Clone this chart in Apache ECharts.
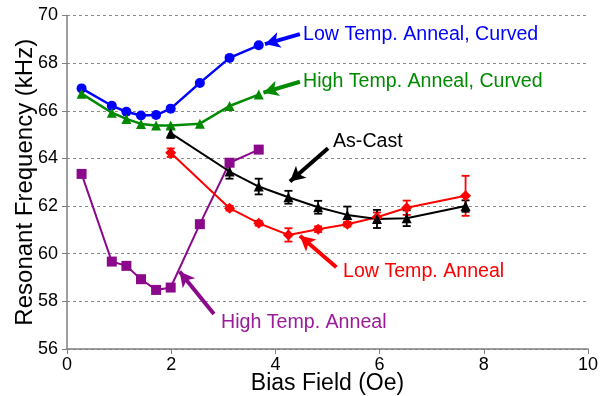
<!DOCTYPE html>
<html>
<head>
<meta charset="utf-8">
<script src="https://cdn.jsdelivr.net/npm/echarts@6/dist/echarts.min.js"></script>
<style>
  html, body { margin: 0; padding: 0; background: #fff; }
  #chart { width: 606px; height: 396px; }
</style>
</head>
<body>
<div id="chart"></div>
<script>
// bias field values (Oe)
const fieldCurved = [0.28, 0.86, 1.14, 1.42, 1.71, 1.99, 2.55, 3.12, 3.68];
const fieldAnneal = [1.99, 3.12, 3.68, 4.25, 4.82, 5.38, 5.95, 6.52, 7.65];

// resonant frequency (kHz)
const lowCurved = [66.94, 66.21, 65.96, 65.80, 65.82, 66.09, 67.17, 68.22, 68.75];
const highCurved = [66.72, 65.92, 65.66, 65.45, 65.38, 65.38, 65.46, 66.20, 66.68];
const highAnneal = [63.35, 59.67, 59.49, 58.93, 58.48, 58.58, 61.24, 63.82, 64.37];
const asCast = [65.06, 63.45, 62.82, 62.37, 61.95, 61.63, 61.46, 61.49, 62.0];
const asCastErr = [0.2, 0.3, 0.33, 0.27, 0.27, 0.35, 0.38, 0.33, 0.24];
const lowAnneal = [64.24, 61.91, 61.28, 60.79, 61.03, 61.24, 61.53, 61.93, 62.43];
const lowAnnealErr = [0.18, 0.1, 0.1, 0.28, 0.12, 0.1, 0.2, 0.3, 0.84];

const FONT = 'Liberation Sans, Arial, sans-serif';

const pairs = (xs, ys) => xs.map((x, i) => [x, ys[i]]);
const errRows = (xs, ys, es) => xs.map((x, i) => [x, ys[i] - es[i], ys[i] + es[i]]);

function errorBar(color) {
  return function (params, api) {
    const lo = api.coord([api.value(0), api.value(1)]);
    const hi = api.coord([api.value(0), api.value(2)]);
    const w = 4;
    const style = { stroke: color, lineWidth: 1.8 };
    return {
      type: 'group',
      children: [
        { type: 'line', shape: { x1: lo[0], y1: lo[1], x2: hi[0], y2: hi[1] }, style },
        { type: 'line', shape: { x1: lo[0] - w, y1: lo[1], x2: lo[0] + w, y2: lo[1] }, style },
        { type: 'line', shape: { x1: hi[0] - w, y1: hi[1], x2: hi[0] + w, y2: hi[1] }, style },
      ],
    };
  };
}

// callout arrows, in data coordinates
function arrow(color, from, to) {
  return {
    silent: true,
    symbol: ['none', 'arrow'],
    symbolSize: [12, 15],
    label: { show: false },
    lineStyle: { color: color, width: 4, type: 'solid' },
    data: [[{ coord: from }, { coord: to }]],
  };
}

function note(text, color, x, y) {
  return {
    type: 'text',
    left: x,
    top: y - 10,
    z: 100,
    style: { text: text, fill: color, font: '19.6px ' + FONT },
  };
}

const chart = echarts.init(document.getElementById('chart'));

chart.setOption({
  animation: false,
  grid: { left: 67, right: 18, top: 15.5, bottom: 47, outerBoundsMode: 'none' },
  xAxis: {
    type: 'value',
    min: 0,
    max: 10,
    interval: 2,
    name: 'Bias Field (Oe)',
    nameLocation: 'middle',
    nameGap: 23,
    nameMoveOverlap: false,
    nameTextStyle: { fontFamily: FONT, fontSize: 23, color: '#000' },
    axisLine: { lineStyle: { color: '#7f7f7f', width: 1.5 } },
    axisTick: { show: true, length: 5, lineStyle: { color: '#7f7f7f' } },
    axisLabel: { fontFamily: FONT, fontSize: 18, color: '#000', margin: 7 },
    splitLine: { show: false },
  },
  yAxis: {
    type: 'value',
    min: 56,
    max: 70,
    interval: 2,
    name: 'Resonant Frequency (kHz)',
    nameLocation: 'middle',
    nameGap: 30,
    nameMoveOverlap: false,
    nameTextStyle: { fontFamily: FONT, fontSize: 24, color: '#000' },
    axisLine: { show: true, lineStyle: { color: '#7f7f7f', width: 1.5 } },
    axisTick: { show: true, length: 5, lineStyle: { color: '#7f7f7f' } },
    axisLabel: { fontFamily: FONT, fontSize: 18, color: '#000', margin: 9 },
    splitLine: { show: true, lineStyle: { color: '#8a8a8a', type: [3, 3], width: 1 } },
  },
  series: [
    {
      name: 'Low Temp. Anneal, Curved',
      type: 'line',
      data: pairs(fieldCurved, lowCurved),
      symbol: 'circle',
      symbolSize: 10,
      lineStyle: { color: '#0000ff', width: 2.5 },
      itemStyle: { color: '#0000ff' },
      markLine: arrow('#0000ff', [4.47, 69.22], [3.80, 68.80]),
    },
    {
      name: 'High Temp. Anneal, Curved',
      type: 'line',
      data: pairs(fieldCurved, highCurved),
      symbol: 'triangle',
      symbolSize: 10,
      lineStyle: { color: '#008a00', width: 2.5 },
      itemStyle: { color: '#008a00' },
      markLine: arrow('#008a00', [4.47, 67.22], [3.77, 66.76]),
    },
    {
      name: 'High Temp. Anneal',
      type: 'line',
      data: pairs(fieldCurved, highAnneal),
      symbol: 'rect',
      symbolSize: 10,
      lineStyle: { color: '#8b0a8b', width: 2 },
      itemStyle: { color: '#8b0a8b' },
      markLine: arrow('#8b0a8b', [2.82, 57.47], [2.16, 59.25]),
    },
    {
      name: 'Low Temp. Anneal',
      type: 'line',
      data: pairs(fieldAnneal, lowAnneal),
      symbol: 'diamond',
      symbolSize: 11,
      lineStyle: { color: '#ff0000', width: 2 },
      itemStyle: { color: '#ff0000' },
      markLine: arrow('#ff0000', [5.17, 59.43], [4.47, 60.75]),
    },
    {
      type: 'custom',
      data: errRows(fieldAnneal, lowAnneal, lowAnnealErr),
      renderItem: errorBar('#ff0000'),
      encode: { x: 0, y: [1, 2] },
      z: 2,
    },
    {
      name: 'As-Cast',
      type: 'line',
      data: pairs(fieldAnneal, asCast),
      symbol: 'triangle',
      symbolSize: 10,
      lineStyle: { color: '#000', width: 2 },
      itemStyle: { color: '#000' },
      markLine: arrow('#000', [5.01, 64.43], [4.28, 63.03]),
      z: 3,
    },
    {
      type: 'custom',
      data: errRows(fieldAnneal, asCast, asCastErr),
      renderItem: errorBar('#000'),
      encode: { x: 0, y: [1, 2] },
      z: 3,
    },
  ],
  graphic: [
    note('Low Temp. Anneal, Curved', '#0000ff', 303, 35),
    note('High Temp. Anneal, Curved', '#008a00', 303, 82),
    note('As-Cast', '#000', 333, 142),
    note('Low Temp. Anneal', '#ff0000', 343, 272),
    note('High Temp. Anneal', '#9a1a9a', 221, 323),
  ],
});
</script>
</body>
</html>
